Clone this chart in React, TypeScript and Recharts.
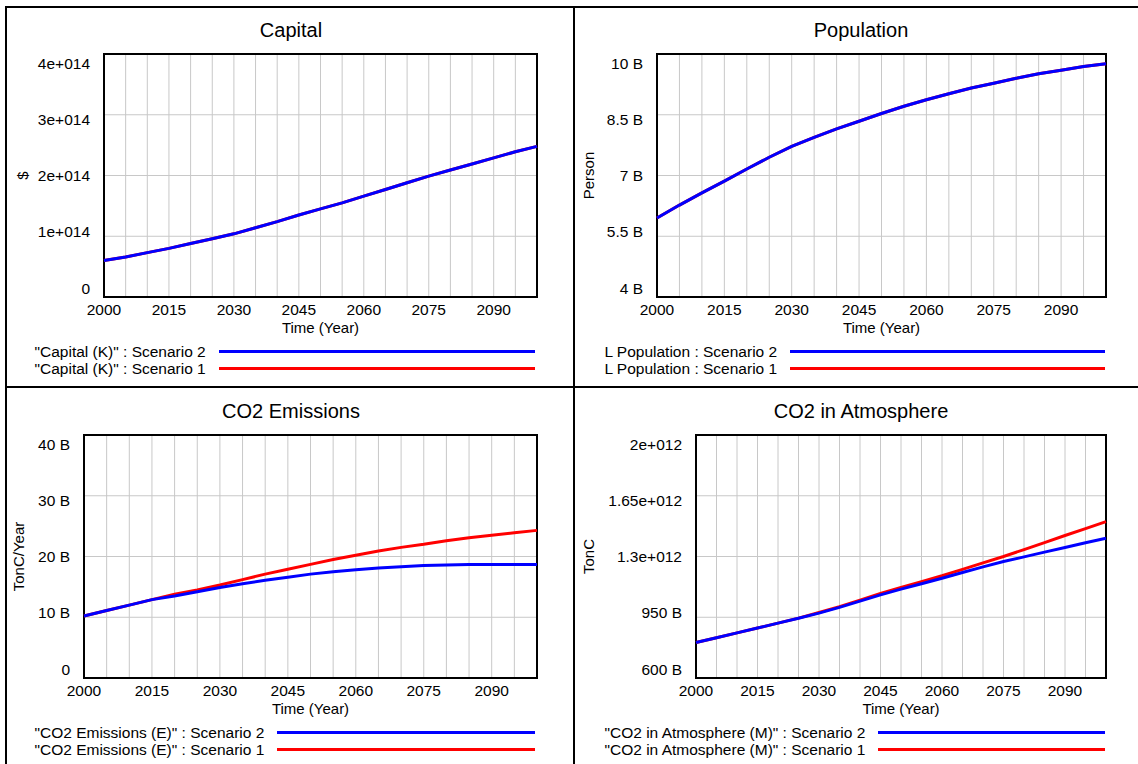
import { LineChart, Line, XAxis, YAxis, CartesianGrid, ReferenceArea } from "recharts";

// time axis, one point every 5 years
const years = [
  2000, 2005, 2010, 2015, 2020, 2025, 2030, 2035, 2040, 2045, 2050,
  2055, 2060, 2065, 2070, 2075, 2080, 2085, 2090, 2095, 2100,
];
const yearLabels = [2000, 2015, 2030, 2045, 2060, 2075, 2090];

// Capital ($, in 1e14)
const capitalS2 = [
  0.6, 0.66, 0.73, 0.8, 0.88, 0.96, 1.04, 1.14, 1.24, 1.35, 1.45,
  1.55, 1.66, 1.77, 1.88, 1.99, 2.09, 2.19, 2.29, 2.39, 2.48,
];
const capitalS1 = [
  0.6, 0.66, 0.73, 0.8, 0.88, 0.96, 1.04, 1.14, 1.24, 1.35, 1.45,
  1.55, 1.66, 1.77, 1.88, 1.99, 2.09, 2.19, 2.29, 2.39, 2.48,
];
const capitalTicks = [0, 1, 2, 3, 4];
const capitalTickLabels = ["0", "1e+014", "2e+014", "3e+014", "4e+014"];

// Population (Person, in billions)
const popS2 = [
  5.95, 6.27, 6.57, 6.86, 7.16, 7.45, 7.72, 7.94, 8.15, 8.34, 8.53,
  8.71, 8.87, 9.02, 9.16, 9.28, 9.4, 9.51, 9.6, 9.69, 9.76,
];
const popS1 = [
  5.95, 6.27, 6.57, 6.86, 7.16, 7.45, 7.72, 7.94, 8.15, 8.34, 8.53,
  8.71, 8.87, 9.02, 9.16, 9.28, 9.4, 9.51, 9.6, 9.69, 9.76,
];
const popTicks = [4, 5.5, 7, 8.5, 10];
const popTickLabels = ["4 B", "5.5 B", "7 B", "8.5 B", "10 B"];

// CO2 emissions (TonC/Year, in billions)
const emisS2 = [
  10.2, 11.1, 12.0, 12.9, 13.5, 14.2, 14.9, 15.5, 16.1, 16.6, 17.1,
  17.5, 17.8, 18.1, 18.3, 18.5, 18.6, 18.7, 18.7, 18.7, 18.7,
];
const emisS1 = [
  10.2, 11.1, 12.0, 12.9, 13.8, 14.5, 15.3, 16.2, 17.1, 17.9, 18.7,
  19.5, 20.2, 20.9, 21.5, 22.0, 22.6, 23.1, 23.5, 23.9, 24.3,
];
const emisTicks = [0, 10, 20, 30, 40];
const emisTickLabels = ["0", "10 B", "20 B", "30 B", "40 B"];

// CO2 in atmosphere (TonC, in billions)
const atmoS2 = [
  805, 832, 860, 888, 916, 944, 974, 1007, 1043, 1079, 1112,
  1143, 1175, 1208, 1240, 1271, 1298, 1325, 1352, 1379, 1405,
];
const atmoS1 = [
  805, 832, 860, 888, 916, 945, 977, 1011, 1049, 1087, 1122,
  1155, 1189, 1226, 1263, 1300, 1340, 1380, 1421, 1461, 1501,
];
const atmoTicks = [600, 950, 1300, 1650, 2000];
const atmoTickLabels = ["600 B", "950 B", "1.3e+012", "1.65e+012", "2e+012"];

const BLUE = "#0000ff";
const RED = "#ff0000";
const FONT = '"Liberation Sans", Arial, sans-serif';
const PLOT_TOP = 54;
const PLOT_BOTTOM = 297;
const PLOT_H = PLOT_BOTTOM - PLOT_TOP;
const X_AXIS_H = 36;

function toRows(s1: number[], s2: number[]) {
  return years.map((year, i) => ({ year, s1: s1[i], s2: s2[i] }));
}

const makeYTick = (ticks: number[], labels: string[]) => (props: any) => {
  const { x, y, payload } = props;
  // labels are spread a bit inside the plot frame, like in the original
  const yy = PLOT_TOP + 9 + ((y - PLOT_TOP) * (PLOT_H - 18)) / PLOT_H;
  const label = labels[ticks.indexOf(payload.value)] ?? "";
  return (
    <text x={x} y={yy} dy="0.355em" textAnchor="end" fill="#000" fontSize={15.5} fontFamily={FONT}>
      {label}
    </text>
  );
};

const makeYTitle = (text: string, cx: number) => (props: any) => {
  const vb = props.viewBox || { x: 0, y: PLOT_TOP, height: PLOT_H };
  const x = vb.x + cx;
  const y = vb.y + vb.height / 2;
  return (
    <text
      x={x}
      y={y}
      dy="0.36em"
      textAnchor="middle"
      transform={`rotate(-90, ${x}, ${y})`}
      fill="#000"
      fontSize={15}
      fontFamily={FONT}
    >
      {text}
    </text>
  );
};

interface PanelProps {
  left: number;
  top: number;
  width: number;
  height: number;
  plotLeft: number;
  plotRight: number;
  title: string;
  unit: string;
  unitX: number;
  s1: number[];
  s2: number[];
  ticks: number[];
  tickLabels: string[];
  legend1: string;
  legend2: string;
}

function Panel(p: PanelProps) {
  const data = toRows(p.s1, p.s2);
  const yMin = p.ticks[0];
  const yMax = p.ticks[p.ticks.length - 1];
  return (
    <div style={{ position: "absolute", left: p.left, top: p.top, width: p.width, height: p.height }}>
      <div
        style={{
          position: "absolute",
          left: 0,
          top: 20,
          width: 582,
          textAlign: "center",
          fontSize: 20,
          lineHeight: "20px",
          fontFamily: FONT,
          color: "#000",
        }}
      >
        {p.title}
      </div>
      <LineChart
        width={p.width}
        height={p.height}
        data={data}
        margin={{ top: PLOT_TOP, right: p.width - p.plotRight, left: 0, bottom: p.height - PLOT_BOTTOM - X_AXIS_H }}
      >
        <CartesianGrid stroke="#c8c8c8" strokeWidth={1} />
        <XAxis
          dataKey="year"
          type="number"
          domain={[2000, 2100]}
          ticks={years}
          interval={0}
          tickFormatter={(v: number) => (yearLabels.includes(v) ? String(v) : "")}
          tickLine={false}
          tickSize={0}
          tickMargin={7}
          height={X_AXIS_H}
          axisLine={false}
          tick={{ fill: "#000", fontSize: 15.5, fontFamily: FONT }}
          label={{ value: "Time (Year)", position: "insideBottom", offset: 0, fill: "#000", fontSize: 15, fontFamily: FONT }}
        />
        <YAxis
          type="number"
          domain={[yMin, yMax]}
          ticks={p.ticks}
          interval={0}
          width={p.plotLeft}
          tickLine={false}
          tickSize={0}
          tickMargin={14}
          axisLine={false}
          tick={makeYTick(p.ticks, p.tickLabels)}
          label={makeYTitle(p.unit, p.unitX)}
        />
        <Line type="linear" dataKey="s1" stroke={RED} strokeWidth={3} dot={false} isAnimationActive={false} />
        <Line type="linear" dataKey="s2" stroke={BLUE} strokeWidth={3} dot={false} isAnimationActive={false} />
        {/* plot frame */}
        <ReferenceArea
          x1={2000}
          x2={2100}
          y1={yMin}
          y2={yMax}
          fill="none"
          stroke="#000"
          strokeWidth={2}
          ifOverflow="visible"
        />
      </LineChart>
      <div
        style={{
          position: "absolute",
          left: 34.5,
          top: 342.5,
          width: 500,
          fontFamily: FONT,
          fontSize: 15.5,
          color: "#000",
        }}
      >
        {[
          { text: p.legend2, color: BLUE },
          { text: p.legend1, color: RED },
        ].map((r) => (
          <div key={r.text} style={{ display: "flex", alignItems: "center", height: 17, lineHeight: "17px" }}>
            <span style={{ whiteSpace: "nowrap" }}>{r.text}</span>
            <span style={{ flex: 1, height: 3, background: r.color, marginLeft: 13 }} />
          </div>
        ))}
      </div>
    </div>
  );
}

export default function App() {
  return (
    <div style={{ position: "absolute", left: 0, top: 0, width: 1138, height: 764, background: "#fff", overflow: "hidden" }}>
      <Panel
        left={0}
        top={0}
        width={570}
        height={380}
        plotLeft={104}
        plotRight={537}
        title="Capital"
        unit="$"
        unitX={22.6}
        s1={capitalS1}
        s2={capitalS2}
        ticks={capitalTicks}
        tickLabels={capitalTickLabels}
        legend2={'"Capital (K)" : Scenario 2'}
        legend1={'"Capital (K)" : Scenario 1'}
      />
      <Panel
        left={570}
        top={0}
        width={568}
        height={380}
        plotLeft={87}
        plotRight={536}
        title="Population"
        unit="Person"
        unitX={18.5}
        s1={popS1}
        s2={popS2}
        ticks={popTicks}
        tickLabels={popTickLabels}
        legend2="L Population : Scenario 2"
        legend1="L Population : Scenario 1"
      />
      <Panel
        left={0}
        top={381}
        width={570}
        height={383}
        plotLeft={84}
        plotRight={537}
        title="CO2 Emissions"
        unit="TonC/Year"
        unitX={18.5}
        s1={emisS1}
        s2={emisS2}
        ticks={emisTicks}
        tickLabels={emisTickLabels}
        legend2={'"CO2 Emissions (E)" : Scenario 2'}
        legend1={'"CO2 Emissions (E)" : Scenario 1'}
      />
      <Panel
        left={570}
        top={381}
        width={568}
        height={383}
        plotLeft={126}
        plotRight={536}
        title="CO2 in Atmosphere"
        unit="TonC"
        unitX={18.5}
        s1={atmoS1}
        s2={atmoS2}
        ticks={atmoTicks}
        tickLabels={atmoTickLabels}
        legend2={'"CO2 in Atmosphere (M)" : Scenario 2'}
        legend1={'"CO2 in Atmosphere (M)" : Scenario 1'}
      />
      {/* outer frame and dividers */}
      <div style={{ position: "absolute", left: 5, top: 6, width: 2, height: 758, background: "#000" }} />
      <div style={{ position: "absolute", left: 5, top: 6, width: 1133, height: 2, background: "#000" }} />
      <div style={{ position: "absolute", left: 573, top: 6, width: 2, height: 758, background: "#000" }} />
      <div style={{ position: "absolute", left: 5, top: 386, width: 1133, height: 2, background: "#000" }} />
    </div>
  );
}
